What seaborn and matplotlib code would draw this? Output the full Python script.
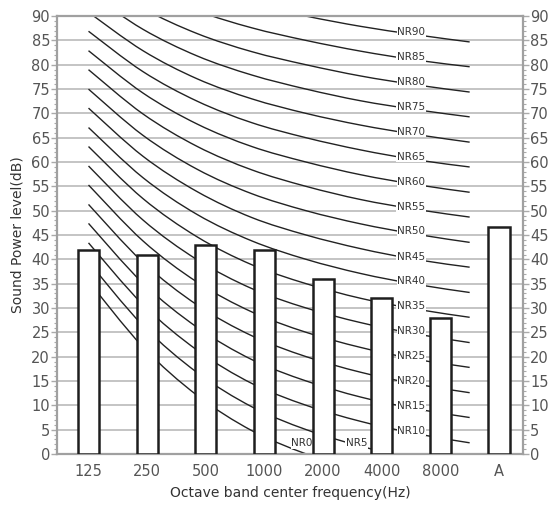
import matplotlib
matplotlib.use("Agg")
import matplotlib.pyplot as plt
from matplotlib.ticker import MultipleLocator
from matplotlib.path import Path
from matplotlib.patches import PathPatch
import numpy as np
import pandas as pd
import seaborn as sns

# measured sound power level per octave band
bands = ["125", "250", "500", "1000", "2000", "4000", "8000", "A"]
levels = [42, 41, 43, 42, 36, 32, 28, 46.7]

# NR curves (63 Hz ... 8000 Hz octave bands)
nr_freqs = ["63", "125", "250", "500", "1000", "2000", "4000", "8000"]
nr_curves = {
    0: [35.5, 22.0, 12.0, 4.8, 0.0, -3.5, -6.1, -8.0],
    5: [39.5, 26.4, 16.7, 9.7, 5.0, 1.6, -1.0, -2.9],
    10: [43.4, 30.7, 21.3, 14.5, 10.0, 6.7, 4.2, 2.3],
    15: [47.4, 35.1, 26.0, 19.4, 15.0, 11.7, 9.3, 7.5],
    20: [51.3, 39.4, 30.6, 24.3, 20.0, 16.8, 14.4, 12.6],
    25: [55.3, 43.8, 35.3, 29.2, 25.0, 21.9, 19.5, 17.8],
    30: [59.2, 48.1, 39.9, 34.0, 30.0, 27.0, 24.7, 22.9],
    35: [63.2, 52.5, 44.6, 38.9, 35.0, 32.0, 29.8, 28.1],
    40: [67.1, 56.8, 49.2, 43.8, 40.0, 37.1, 34.9, 33.2],
    45: [71.1, 61.2, 53.9, 48.6, 45.0, 42.2, 40.0, 38.4],
    50: [75.0, 65.5, 58.5, 53.5, 50.0, 47.3, 45.2, 43.5],
    55: [79.0, 69.9, 63.2, 58.4, 55.0, 52.3, 50.3, 48.7],
    60: [82.9, 74.2, 67.8, 63.2, 60.0, 57.4, 55.4, 53.8],
    65: [86.9, 78.6, 72.5, 68.1, 65.0, 62.5, 60.5, 59.0],
    70: [90.8, 82.9, 77.1, 73.0, 70.0, 67.6, 65.7, 64.1],
    75: [94.8, 87.3, 81.8, 77.9, 75.0, 72.6, 70.8, 69.3],
    80: [98.7, 91.6, 86.4, 82.7, 80.0, 77.7, 75.9, 74.4],
    85: [102.7, 96.0, 91.1, 87.6, 85.0, 82.8, 81.0, 79.6],
    90: [106.6, 100.3, 95.7, 92.5, 90.0, 87.9, 86.2, 84.7],
}


def smooth_path(x, y):
    # bezier path passing through every point (smoothed line style)
    pts = np.column_stack([x, y])
    n = len(pts)
    verts = [pts[0]]
    codes = [Path.MOVETO]
    for i in range(n - 1):
        p0 = pts[max(i - 1, 0)]
        p1 = pts[i]
        p2 = pts[i + 1]
        p3 = pts[min(i + 2, n - 1)]
        verts += [p1 + (p2 - p0) / 6, p2 - (p3 - p1) / 6, p2]
        codes += [Path.CURVE4] * 3
    return Path(verts, codes)


sns.set_style("white")
plt.rcParams['font.family'] = ['DejaVu Sans']

fig = plt.figure(figsize=(5.52, 5.05), dpi=100)
ax = fig.add_axes([0.1033, 0.101, 0.8442, 0.867])

df = pd.DataFrame({"band": bands, "level": levels})
sns.barplot(data=df, x="band", y="level", color="white", edgecolor="#1e1e1e",
            linewidth=1.8, width=0.36, saturation=1, ax=ax)
for p in ax.patches:
    p.set_zorder(4)

# NR curves: 63 Hz at first category, 8000 Hz half a category before "A"
step = 6.5 / 7
xs = np.arange(len(nr_freqs)) * step
for nr, vals in nr_curves.items():
    ax.add_patch(PathPatch(smooth_path(xs, vals), fill=False,
                           ec="#222222", lw=1.0, zorder=2))
    # label at 4000 Hz, or at the last band still >= 0
    idx = 6
    while vals[idx] < 0:
        idx -= 1
    ax.annotate("NR%d" % nr, (xs[idx], max(vals[idx], 1.6)), xytext=(-3, 2),
                textcoords="offset points", ha="center", va="center",
                fontsize=7.5, color="#333333", zorder=3,
                bbox=dict(boxstyle="square,pad=0.05", fc="white", ec="none"))

ax.set_xlim(-0.537, 7.41)
ax.set_ylim(0, 90)
ax.yaxis.set_major_locator(MultipleLocator(5))
ax.yaxis.set_minor_locator(MultipleLocator(1))
ax.grid(axis="y", color="#b4b4b4", lw=1.1)
ax.grid(axis="x", visible=False)
ax.set_axisbelow(True)

for s in ax.spines.values():
    s.set_color("#a0a0a0")
    s.set_linewidth(1.6)

ax.tick_params(axis="y", which="both", left=True, right=True, labelright=True,
               direction="out", color="#aaaaaa", labelcolor="#555555",
               labelsize=10.5, pad=1)
ax.tick_params(axis="y", which="major", length=4, width=1)
ax.tick_params(axis="y", which="minor", length=2.5, width=0.8)
ax.tick_params(axis="x", bottom=False, labelcolor="#555555", labelsize=10.5, pad=4)

ax.set_xlabel("Octave band center frequency(Hz)", fontsize=10, color="#333333", labelpad=5)
ax.set_ylabel("Sound Power level(dB)", fontsize=10, color="#333333", labelpad=5)

fig.savefig("out.png", dpi=100)
